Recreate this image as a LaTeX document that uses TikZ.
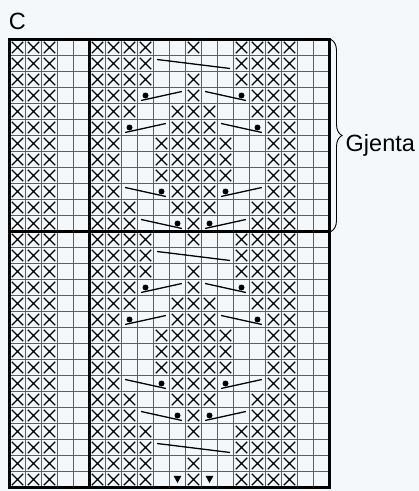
\documentclass[tikz,border=0pt]{standalone}
\usepackage{fontspec}
\setmainfont{Liberation Sans}
\usetikzlibrary{shapes.misc, decorations.pathreplacing}

\definecolor{bakgrunn}{RGB}{245,248,251}
\definecolor{rutefarge}{RGB}{95,95,95}

% vridning: fra venstre celle til hoyre celle i en rad
\newcommand\vfall[3]{\draw[vri] (#1+0.23,#3+0.25) -- (#2+0.77,#3+0.81);}
\newcommand\vstig[3]{\draw[vri] (#1+0.23,#3+0.81) -- (#2+0.77,#3+0.25);}
\newcommand\prikk[2]{\fill (#1+0.5,#2+0.5) circle (3pt);}
\newcommand\pil[2]{\fill (#1+0.5,#2+0.5) ++(-3.9pt,3.6pt) -- ++(7.8pt,0pt) -- ++(-3.9pt,-7.2pt) -- cycle;}

\begin{document}
\begin{tikzpicture}[
        x=16pt, y=-16pt,
        rute/.style={draw=rutefarge, line width=0.9pt},
        tykk/.style={draw=black, line width=2.8pt},
        maske/.style={
            cross out, draw=black, line width=1.3pt,
            minimum size=10pt, inner sep=0pt
        },
        vri/.style={draw=black, line width=1.3pt},
        etikett/.style={font=\fontsize{23.5}{28}\selectfont, inner sep=0pt}
    ]
        \useasboundingbox (-0.59375,-2.46875) rectangle (25.59375,28.21875);
        \fill[bakgrunn] (-0.59375,-2.46875) rectangle (25.59375,28.21875);

        \node[etikett, anchor=base west] (diagram) at (-0.05,-0.64) {C};

        % rutenett
        \foreach \i in {1,...,19} \draw[rute] (\i,0) -- (\i,28);
        \foreach \j in {1,...,27} \draw[rute] (0,\j) -- (20,\j);

        % to gjentak
        \foreach \b in {0,12} {
            \foreach \r/\cs in {
                0/{0,1,2,5,6,7,8,11,14,15,16,17},
                1/{0,1,2,5,6,7,8,14,15,16,17},
                2/{0,1,2,5,6,7,8,11,14,15,16,17},
                3/{0,1,2,5,6,7,11,15,16,17},
                4/{0,1,2,5,6,7,10,11,12,15,16,17},
                5/{0,1,2,5,6,10,11,12,16,17},
                6/{0,1,2,5,6,9,10,11,12,13,16,17},
                7/{0,1,2,5,6,9,10,11,12,13,16,17},
                8/{0,1,2,5,6,9,10,11,12,13,16,17},
                9/{0,1,2,5,6,10,11,12,16,17},
                10/{0,1,2,5,6,7,10,11,12,15,16,17},
                11/{0,1,2,5,6,7,11,15,16,17}} {
                \foreach \c in \cs
                    \node[maske] (k\b-\r-\c) at (\c+0.5,\b+\r+0.5) {};
            }
            \vfall{9}{13}{\b+1}
            \prikk{8}{\b+3} \vstig{8}{10}{\b+3} \vfall{12}{14}{\b+3} \prikk{14}{\b+3}
            \prikk{7}{\b+5} \vstig{7}{9}{\b+5} \vfall{13}{15}{\b+5} \prikk{15}{\b+5}
            \vfall{7}{9}{\b+9} \prikk{9}{\b+9} \prikk{13}{\b+9} \vstig{13}{15}{\b+9}
            \vfall{8}{10}{\b+11} \prikk{10}{\b+11} \prikk{12}{\b+11} \vstig{12}{14}{\b+11}
        }

        % siste fire rader
        \foreach \r/\cs in {
            24/{0,1,2,5,6,7,8,11,14,15,16,17},
            25/{0,1,2,5,6,7,8,14,15,16,17},
            26/{0,1,2,5,6,7,8,11,14,15,16,17},
            27/{0,1,2,5,6,7,8,11,14,15,16,17}} {
            \foreach \c in \cs
                \node[maske] (k-\r-\c) at (\c+0.5,\r+0.5) {};
        }
        \vfall{9}{13}{25}
        \pil{10}{27} \pil{12}{27}

        % rammer
        \draw[tykk] (5,0) -- (5,28);
        \draw[tykk] (0,12) -- (20,12);
        \draw[tykk] (0,0) rectangle (20,28);

        \coordinate (gjentastart) at ([xshift=1.5pt]20,0);
        \coordinate (gjentaslutt) at ([xshift=1.5pt]20,12);
        \draw[line width=0.9pt, decorate, decoration={brace, amplitude=11pt}]
            (gjentastart) -- (gjentaslutt);
        \node[etikett, anchor=base west] (gjenta) at (21,7) {Gjenta};
    \end{tikzpicture}
\end{document}
